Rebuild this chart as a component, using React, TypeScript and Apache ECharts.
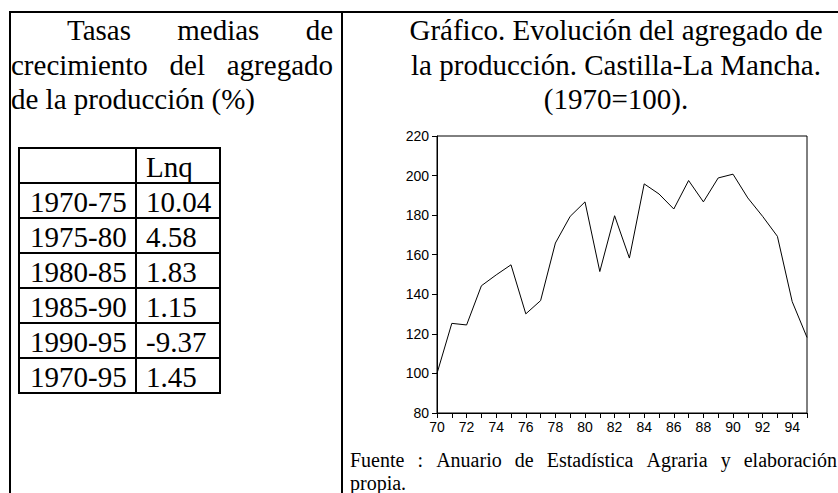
import { useEffect, useRef } from "react";
import * as echarts from "echarts";

// ---- Data ----
const years = [
  "70", "71", "72", "73", "74", "75", "76", "77", "78", "79", "80", "81", "82",
  "83", "84", "85", "86", "87", "88", "89", "90", "91", "92", "93", "94", "95",
];
const productionIndex = [
  100, 125.3, 124.5, 144.3, 149.8, 154.9, 130.1, 136.8, 165.9, 179.4, 186.7,
  151.5, 179.7, 158.3, 195.8, 190.7, 183.1, 197.5, 186.7, 198.8, 200.7, 188.7,
  179.4, 169.3, 136.3, 118.2,
];
const periods = ["1970-75", "1975-80", "1980-85", "1985-90", "1990-95", "1970-95"];
const lnqRates = ["10.04", "4.58", "1.83", "1.15", "-9.37", "1.45"];
const tableHeader = "Lnq";
const yAxisMin = 80;
const yAxisMax = 220;
const yAxisStep = 20;

const headingLines = [
  ["Tasas", "medias", "de"],
  ["crecimiento", "del", "agregado"],
  ["de la producción (%)"],
];
const titleLines = [
  "Gráfico. Evolución del agregado de",
  "la producción. Castilla-La Mancha.",
  "(1970=100).",
];
const sourceLines = [
  ["Fuente", ":", "Anuario", "de", "Estadística", "Agraria", "y", "elaboración"],
  ["propia."],
];

// ---- Helpers ----
const SERIF = "'Liberation Serif', 'Times New Roman', serif";
const SANS = "'Liberation Sans', Arial, sans-serif";

let measureCtx: CanvasRenderingContext2D | null = null;
function measure(text: string, font: string): number {
  if (!measureCtx) measureCtx = document.createElement("canvas").getContext("2d");
  if (!measureCtx) return text.length * 10;
  measureCtx.font = font;
  return measureCtx.measureText(text).width;
}

function textEl(text: string, x: number, y: number, font: string, align = "left") {
  return {
    type: "text",
    x,
    y,
    silent: true,
    style: {
      text,
      font,
      fill: "#000",
      align,
      textAlign: align,
      verticalAlign: "middle",
      textVerticalAlign: "middle",
    },
  };
}

function justified(words: string[], x0: number, x1: number, y: number, font: string, justify: boolean) {
  if (!justify || words.length === 1) {
    return [textEl(words.join(" "), x0, y, font)];
  }
  const widths = words.map((w) => measure(w, font));
  const total = widths.reduce((a, b) => a + b, 0);
  const gap = (x1 - x0 - total) / (words.length - 1);
  let x = x0;
  return words.map((w, i) => {
    const el = textEl(w, x, y, font);
    x += widths[i] + gap;
    return el;
  });
}

function lineEl(x1: number, y1: number, x2: number, y2: number, w = 2) {
  return {
    type: "line",
    silent: true,
    shape: { x1, y1, x2, y2 },
    style: { stroke: "#000", lineWidth: w },
  };
}

export default function App() {
  const ref = useRef<HTMLDivElement>(null);

  useEffect(() => {
    if (!ref.current) return;
    const chart = echarts.init(ref.current, null, { renderer: "svg" });

    const bigFont = `29px ${SERIF}`;
    const smallFont = `20px ${SERIF}`;
    const lineBaselines = [40, 74.5, 109];
    const mid = (b: number, size: number) => b - 0.3375 * size;

    const graphics: any[] = [];
    // outer frame
    graphics.push(lineEl(9, 12, 838, 12));
    graphics.push(lineEl(10, 11, 10, 493));
    graphics.push(lineEl(342, 11, 342, 493));

    // left heading (justified)
    headingLines.forEach((words, i) => {
      const x0 = i === 0 ? 67 : 11;
      graphics.push(...justified(words, x0, 333, mid(lineBaselines[i], 29), bigFont, i < 2));
    });

    // table
    const rowTop = 148;
    const rowH = 35;
    const nRows = periods.length + 1;
    const tLeft = 19, tMid = 136, tRight = 220;
    for (let r = 0; r <= nRows; r++) {
      const y = rowTop + r * rowH;
      graphics.push(lineEl(tLeft - 1, y, tRight + 1, y));
    }
    const tBottom = rowTop + nRows * rowH;
    graphics.push(lineEl(tLeft, rowTop, tLeft, tBottom));
    graphics.push(lineEl(tMid, rowTop, tMid, tBottom));
    graphics.push(lineEl(tRight, rowTop, tRight, tBottom));
    const cellY = (r: number) => rowTop + (r + 1) * rowH - 6 - 0.3375 * 29;
    graphics.push(textEl(tableHeader, tMid + 10, cellY(0), bigFont));
    periods.forEach((p, i) => {
      graphics.push(textEl(p, tLeft + 11, cellY(i + 1), bigFont));
      graphics.push(textEl(lnqRates[i], tMid + 10, cellY(i + 1), bigFont));
    });

    // right title (centered)
    titleLines.forEach((t, i) => {
      graphics.push(textEl(t, 616, mid(lineBaselines[i], 29), bigFont, "center"));
    });

    // source note
    const srcBaselines = [467, 490];
    sourceLines.forEach((words, i) => {
      graphics.push(...justified(words, 350, 837, mid(srcBaselines[i], 20), smallFont, i === 0));
    });

    chart.setOption({
      animation: false,
      backgroundColor: "#fff",
      grid: {
        left: 437,
        right: 31,
        top: 136,
        bottom: 80,
        show: true,
        borderColor: "#000",
        borderWidth: 1,
        backgroundColor: "transparent",
      },
      xAxis: {
        type: "category",
        data: years,
        boundaryGap: false,
        axisLine: { lineStyle: { color: "#000", width: 1 } },
        axisTick: { show: true, interval: 0, length: 5, lineStyle: { color: "#000" } },
        axisLabel: {
          interval: 1,
          margin: 7,
          color: "#000",
          fontSize: 14,
          fontFamily: SANS,
        },
        splitLine: { show: false },
      },
      yAxis: {
        type: "value",
        min: yAxisMin,
        max: yAxisMax,
        interval: yAxisStep,
        axisLine: { show: true, lineStyle: { color: "#000", width: 1 } },
        axisTick: { show: true, length: 5, lineStyle: { color: "#000" } },
        axisLabel: { margin: 8, color: "#000", fontSize: 14, fontFamily: SANS },
        splitLine: { show: false },
      },
      series: [
        {
          type: "line",
          data: productionIndex,
          showSymbol: false,
          lineStyle: { color: "#000", width: 1 },
          itemStyle: { color: "#000" },
        },
      ],
      graphic: graphics,
    });

    return () => chart.dispose();
  }, []);

  return (
    <div
      ref={ref}
      style={{ position: "absolute", left: 0, top: 0, width: 838, height: 493, background: "#fff" }}
    />
  );
}
